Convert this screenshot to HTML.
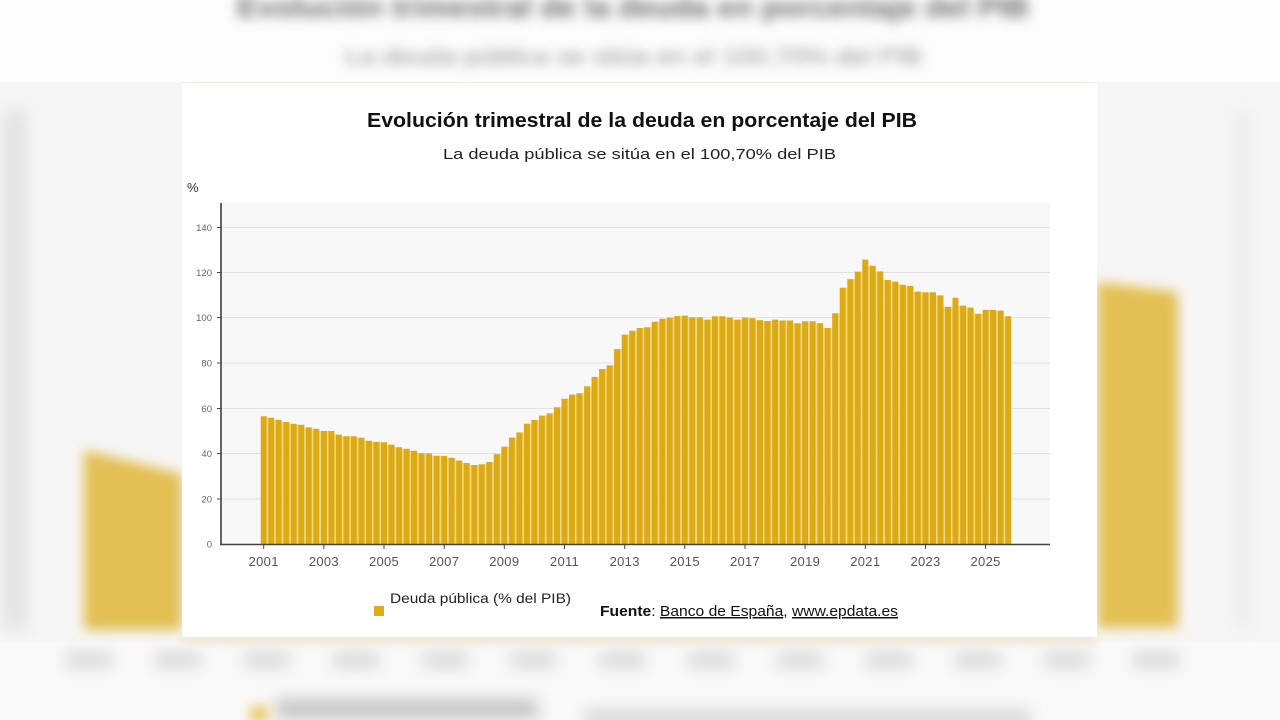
<!DOCTYPE html>
<html>
<head>
<meta charset="utf-8">
<style>
  html,body{margin:0;padding:0;background:#fafafa;}
  svg{display:block;}
  text{font-family:"Liberation Sans", Arial, sans-serif;}
</style>
</head>
<body>
<svg width="1280" height="720" viewBox="0 0 1280 720" xmlns="http://www.w3.org/2000/svg">
  <defs>
    <filter id="b8" filterUnits="userSpaceOnUse" x="-100" y="-100" width="1480" height="920"><feGaussianBlur stdDeviation="8"/></filter>
    <filter id="b6" filterUnits="userSpaceOnUse" x="-100" y="-100" width="1480" height="920"><feGaussianBlur stdDeviation="6"/></filter>
    <filter id="b4" filterUnits="userSpaceOnUse" x="-100" y="-100" width="1480" height="920"><feGaussianBlur stdDeviation="4"/></filter>
  </defs>

  <!-- Blurred background -->
  <rect x="0" y="0" width="1280" height="720" fill="#f9f9f9"/>
  <rect x="0" y="0" width="1280" height="82" fill="#fdfdfd"/>
  <rect x="0" y="82" width="182" height="560" fill="#f6f6f6"/>
  <rect x="1097" y="82" width="183" height="560" fill="#f6f6f6"/>
  <rect x="2" y="110" width="26" height="520" fill="#e4e4e4" filter="url(#b8)"/>
  <rect x="1235" y="110" width="16" height="520" fill="#ededed" filter="url(#b8)"/>

  <g filter="url(#b6)">
    <text x="237" y="17" font-size="29" font-weight="bold" fill="#6a6a6a" textLength="792" lengthAdjust="spacingAndGlyphs">Evolución trimestral de la deuda en porcentaje del PIB</text>
    <text x="345" y="64" font-size="22" fill="#8a8a8a" textLength="577" lengthAdjust="spacingAndGlyphs">La deuda pública se sitúa en el 100,70% del PIB</text>
  </g>

  <polygon points="84,450 182,474 182,630 84,630" fill="#e3c052" filter="url(#b6)"/>
  <polygon points="1097,282 1178,292 1178,628 1097,628" fill="#e3c052" filter="url(#b6)"/>

  <g fill="#d6d6d6" filter="url(#b8)">
    <rect x="66" y="653" width="46" height="14"/>
    <rect x="155" y="653" width="46" height="14"/>
    <rect x="244" y="653" width="46" height="14"/>
    <rect x="333" y="653" width="46" height="14"/>
    <rect x="422" y="653" width="46" height="14"/>
    <rect x="510" y="653" width="46" height="14"/>
    <rect x="599" y="653" width="46" height="14"/>
    <rect x="688" y="653" width="46" height="14"/>
    <rect x="777" y="653" width="46" height="14"/>
    <rect x="866" y="653" width="46" height="14"/>
    <rect x="955" y="653" width="46" height="14"/>
    <rect x="1044" y="653" width="46" height="14"/>
    <rect x="1133" y="653" width="46" height="14"/>
  </g>
  <rect x="276" y="699" width="262" height="20" fill="#c4c4c4" filter="url(#b8)"/>
  <rect x="585" y="711" width="445" height="14" fill="#d0d0d0" filter="url(#b8)"/>
  <rect x="250" y="706" width="18" height="16" fill="#e8c860" filter="url(#b6)"/>
  <rect x="182" y="634" width="915" height="10" fill="#ece2cc" filter="url(#b4)" opacity="0.8"/>

  <!-- Panel -->
  <rect x="182" y="83" width="915" height="554" fill="#ffffff"/>
  <line x1="182" y1="82.5" x2="1097" y2="82.5" stroke="#f1ebdf" stroke-width="1"/>

  <!-- Titles -->
  <text x="367" y="127" font-size="20" font-weight="bold" fill="#111" textLength="550" lengthAdjust="spacingAndGlyphs">Evolución trimestral de la deuda en porcentaje del PIB</text>
  <text x="443" y="159" font-size="15" fill="#222" textLength="393" lengthAdjust="spacingAndGlyphs">La deuda pública se sitúa en el 100,70% del PIB</text>
  <text x="187" y="192" font-size="13" fill="#333">%</text>

  <!-- Plot area -->
  <rect x="221" y="203" width="829" height="341" fill="#f8f8f8"/>
  <g stroke="#e2e2e2" stroke-width="1">
    <line x1="221" y1="227.5" x2="1050" y2="227.5"/>
    <line x1="221" y1="272.5" x2="1050" y2="272.5"/>
    <line x1="221" y1="317.5" x2="1050" y2="317.5"/>
    <line x1="221" y1="363" x2="1050" y2="363"/>
    <line x1="221" y1="408.5" x2="1050" y2="408.5"/>
    <line x1="221" y1="453.5" x2="1050" y2="453.5"/>
    <line x1="221" y1="499" x2="1050" y2="499"/>
  </g>
  <g font-size="9.5" fill="#666" text-anchor="end">
    <text x="212" y="231">140</text>
    <text x="212" y="276">120</text>
    <text x="212" y="321">100</text>
    <text x="212" y="366.5">80</text>
    <text x="212" y="412">60</text>
    <text x="212" y="457">40</text>
    <text x="212" y="502.5">20</text>
    <text x="212" y="547.5">0</text>
  </g>

  <!-- Bars: light gaps -->
  <path fill="none" stroke="#f3d77a" stroke-width="1.5" d="M267.5 544V417.7M275 544V419.7M282.5 544V422M290.1 544V423.8M297.6 544V424.7M305.1 544V427.4M312.6 544V428.8M320.1 544V431M327.7 544V431M335.2 544V434.6M342.7 544V436.2M350.2 544V436.2M357.7 544V437.8M365.3 544V440.8M372.8 544V441.9M380.3 544V442.3M387.8 544V444.6M395.3 544V447.3M402.9 544V448.7M410.4 544V450.7M417.9 544V453.2M425.4 544V453.4M432.9 544V455.7M440.5 544V455.9M448 544V457.7M455.5 544V460.5M463 544V463M470.5 544V465M478.1 544V465M485.6 544V464.3M493.1 544V462M500.6 544V454.1M508.1 544V446.6M515.7 544V437.6M523.2 544V432.4M530.7 544V423.8M538.2 544V419.9M545.7 544V415.6M553.3 544V413.4M560.8 544V407.3M568.3 544V398.7M575.8 544V394.6M583.3 544V393.2M590.9 544V386.4M598.4 544V376.9M605.9 544V369M613.4 544V365.4M620.9 544V349.1M628.5 544V334.6M636 544V330.7M643.5 544V328M651 544V327.3M658.5 544V321.7M666.1 544V318.7M673.6 544V317.6M681.1 544V316M688.6 544V317.4M696.1 544V317.4M703.7 544V319.6M711.2 544V319.6M718.7 544V316.2M726.2 544V317.6M733.7 544V319.6M741.3 544V319.6M748.8 544V318.1M756.3 544V320.1M763.8 544V321M771.3 544V321M778.9 544V320.5M786.4 544V320.5M793.9 544V323.3M801.4 544V323.3M808.9 544V321.2M816.5 544V323.3M824 544V328M831.5 544V328M839 544V313.3M846.5 544V287.7M854.1 544V279.1M861.6 544V271.6M869.1 544V265.8M876.6 544V271.4M884.1 544V280M891.7 544V281.6M899.2 544V284.8M906.7 544V285.9M914.2 544V291.6M921.7 544V292.2M929.3 544V292.2M936.8 544V295.4M944.3 544V306.7M951.8 544V306.7M959.3 544V305.6M966.9 544V307.6M974.4 544V313.8M981.9 544V313.8M989.4 544V309.9M996.9 544V310.6M1004.5 544V316.2"/>
  <!-- Bars: main -->
  <path fill="none" stroke="#dcaa14" stroke-width="6" d="M263.7 544V416.3M271.2 544V417.7M278.7 544V419.7M286.3 544V422M293.8 544V423.8M301.3 544V424.7M308.8 544V427.4M316.3 544V428.8M323.9 544V431M331.4 544V431M338.9 544V434.6M346.4 544V436.2M353.9 544V436.2M361.5 544V437.8M369 544V440.8M376.5 544V441.9M384 544V442.3M391.5 544V444.6M399.1 544V447.3M406.6 544V448.7M414.1 544V450.7M421.6 544V453.2M429.1 544V453.4M436.7 544V455.7M444.2 544V455.9M451.7 544V457.7M459.2 544V460.5M466.7 544V463M474.3 544V465M481.8 544V464.3M489.3 544V462M496.8 544V454.1M504.3 544V446.6M511.9 544V437.6M519.4 544V432.4M526.9 544V423.8M534.4 544V419.9M541.9 544V415.6M549.5 544V413.4M557 544V407.3M564.5 544V398.7M572 544V394.6M579.5 544V393.2M587.1 544V386.4M594.6 544V376.9M602.1 544V369M609.6 544V365.4M617.1 544V349.1M624.7 544V334.6M632.2 544V330.7M639.7 544V328M647.2 544V327.3M654.7 544V321.7M662.3 544V318.7M669.8 544V317.6M677.3 544V316M684.8 544V315.6M692.3 544V317.4M699.9 544V317.4M707.4 544V319.6M714.9 544V316.2M722.4 544V316.2M729.9 544V317.6M737.5 544V319.6M745 544V317.6M752.5 544V318.1M760 544V320.1M767.5 544V321M775.1 544V319.6M782.6 544V320.5M790.1 544V320.5M797.6 544V323.3M805.1 544V321.2M812.7 544V321.2M820.2 544V323.3M827.7 544V328M835.2 544V313.3M842.7 544V287.7M850.3 544V279.1M857.8 544V271.6M865.3 544V259.6M872.8 544V265.8M880.3 544V271.4M887.9 544V280M895.4 544V281.6M902.9 544V284.8M910.4 544V285.9M917.9 544V291.6M925.5 544V292.2M933 544V292.2M940.5 544V295.4M948 544V306.7M955.5 544V297.7M963.1 544V305.6M970.6 544V307.6M978.1 544V313.8M985.6 544V309.9M993.1 544V309.9M1000.7 544V310.6M1008.2 544V316.2"/>

  <!-- Axes -->
  <line x1="221" y1="203" x2="221" y2="545" stroke="#333" stroke-width="1.5"/>
  <line x1="220" y1="544.5" x2="1050" y2="544.5" stroke="#444" stroke-width="1.5"/>
  <g stroke="#444" stroke-width="1">
    <line x1="217" y1="227.5" x2="221" y2="227.5"/>
    <line x1="217" y1="272.5" x2="221" y2="272.5"/>
    <line x1="217" y1="317.5" x2="221" y2="317.5"/>
    <line x1="217" y1="363" x2="221" y2="363"/>
    <line x1="217" y1="408.5" x2="221" y2="408.5"/>
    <line x1="217" y1="453.5" x2="221" y2="453.5"/>
    <line x1="217" y1="499" x2="221" y2="499"/>
    <line x1="263.7" y1="545" x2="263.7" y2="549"/>
    <line x1="323.9" y1="545" x2="323.9" y2="549"/>
    <line x1="384" y1="545" x2="384" y2="549"/>
    <line x1="444.2" y1="545" x2="444.2" y2="549"/>
    <line x1="504.3" y1="545" x2="504.3" y2="549"/>
    <line x1="564.5" y1="545" x2="564.5" y2="549"/>
    <line x1="624.7" y1="545" x2="624.7" y2="549"/>
    <line x1="684.8" y1="545" x2="684.8" y2="549"/>
    <line x1="745" y1="545" x2="745" y2="549"/>
    <line x1="805.1" y1="545" x2="805.1" y2="549"/>
    <line x1="865.3" y1="545" x2="865.3" y2="549"/>
    <line x1="925.5" y1="545" x2="925.5" y2="549"/>
    <line x1="985.6" y1="545" x2="985.6" y2="549"/>
  </g>
  <g font-size="13" fill="#555" text-anchor="middle" letter-spacing="0.3">
    <text x="263.7" y="566">2001</text>
    <text x="323.9" y="566">2003</text>
    <text x="384" y="566">2005</text>
    <text x="444.2" y="566">2007</text>
    <text x="504.3" y="566">2009</text>
    <text x="564.5" y="566">2011</text>
    <text x="624.7" y="566">2013</text>
    <text x="684.8" y="566">2015</text>
    <text x="745" y="566">2017</text>
    <text x="805.1" y="566">2019</text>
    <text x="865.3" y="566">2021</text>
    <text x="925.5" y="566">2023</text>
    <text x="985.6" y="566">2025</text>
  </g>

  <!-- Legend & source -->
  <rect x="374" y="606" width="10" height="10" fill="#e0ac18"/>
  <text x="390" y="603" font-size="14" fill="#222" textLength="181" lengthAdjust="spacingAndGlyphs">Deuda pública (% del PIB)</text>
  <text x="600" y="616" font-size="15" fill="#111" textLength="298" lengthAdjust="spacingAndGlyphs"><tspan font-weight="bold">Fuente</tspan>: <tspan text-decoration="underline">Banco de España</tspan>, <tspan text-decoration="underline">www.epdata.es</tspan></text>
</svg>
</body>
</html>
